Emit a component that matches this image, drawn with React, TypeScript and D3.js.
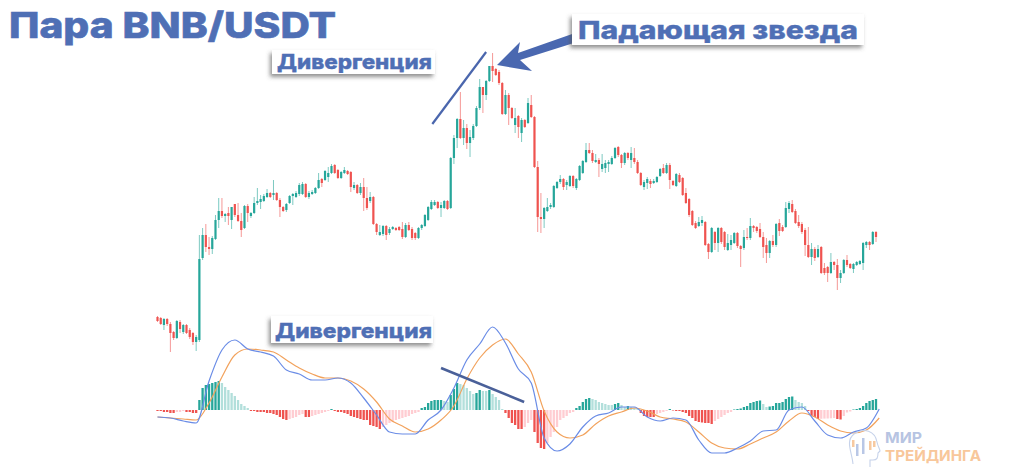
import React from "react";
import * as d3 from "d3";

const pairTitle = "Пара BNB/USDT";
const divergenceLabel = "Дивергенция";
const starLabel = "Падающая звезда";

const opens = [
  83,82,75,81,76,68,62,78,68,75, 70,67,58,60,142,165,153,151,161,180,
  189,184,187,180,196,185,179,172,194,184, 187,197,198,199,203,207,205,207,200,193,
  190,197,204,203,206,206,216,203,206,207, 212,221,220,223,227,235,230,222,227,229,
  228,212,215,207,213,202,199,203,176,165, 166,174,167,171,172,173,171,163,175,171,
  167,162,172,174,180,191,195,198,192,192, 199,192,242,262,281,262,272,257,262,274,
  292,313,305,319,334,331,328,317,286,305, 292,275,284,267,280,277,295,283,233,183,
  181,189,193,193,212,218,221,215,214,224, 212,220,227,238,250,247,238,240,231,232,
  236,236,242,253,245,237,247,240,242,238, 227,213,217,219,217,218,224,232,227,235,
  219,214,225,222,207,201,189,177,174,177, 178,156,148,168,157,172,168,150,155,157,
  167,154,152,163,162,174,173,171,163,155, 147,159,155,177,173,173,191,196,189,178,
  176,170,155,143,151,143,153,132,133,127, 138,135,122,127,140,136,131,135,136,137,
  155,158,156,168,
];
const closes = [
  79,76,81,76,67,62,79,71,75,67, 63,58,63,141,165,153,151,162,180,189,
  184,186,184,193,185,179,170,194,187,187, 197,199,201,204,207,203,207,200,193,189,
  196,204,206,207,215,216,203,207,208,212, 220,217,229,227,234,227,222,228,230,226,
  213,215,207,213,202,192,203,176,168,168, 174,165,171,173,170,170,163,175,170,162,
  162,172,175,185,193,198,198,192,195,199, 191,242,262,281,262,272,257,263,274,292,
  313,305,319,334,329,325,317,286,305,292, 282,282,273,280,273,297,283,233,183,181,
  192,193,195,214,218,221,213,218,224,214, 221,234,239,250,247,239,240,236,236,237,
  238,242,252,245,237,247,242,247,238,227, 215,218,221,216,219,223,231,227,235,220,
  215,226,218,205,197,185,175,172,178,180, 155,148,172,157,172,158,153,157,160,167,
  154,151,163,162,174,172,169,163,153,147, 159,155,176,169,169,192,197,188,177,174,
  168,155,143,151,142,151,127,127,127,138, 135,122,127,140,135,132,136,138,139,157,
  158,155,168,163,
];
const highs = [
  84,83,82,82,78,69,80,80,76,76, 72,68,65,165,172,176,163,164,185,202,
  202,187,193,193,196,197,187,195,196,188, 203,212,205,206,211,208,220,208,202,194,
  197,205,207,209,217,218,217,209,210,213, 227,222,230,233,236,236,231,229,233,230,
  229,218,216,217,222,213,208,204,177,175, 175,175,173,174,173,174,178,177,178,173,
  168,173,176,186,194,200,200,199,198,200, 200,243,265,282,308,280,276,270,276,294,
  321,313,320,334,347,332,330,318,310,307, 293,292,285,282,281,302,305,284,239,207,
  193,202,197,215,219,225,222,220,225,225, 222,235,240,257,257,250,246,242,246,240,
  240,244,253,254,246,248,248,253,252,240, 228,220,223,221,221,224,232,236,237,237,
  220,227,227,223,212,202,190,179,183,184, 179,157,173,169,173,173,169,166,165,168,
  168,155,170,172,182,175,174,177,168,162, 160,165,177,181,175,198,199,200,191,185,
  178,172,173,157,153,155,154,137,134,147, 139,141,130,141,145,137,137,139,140,158,
  159,159,169,169,
];
const lows = [
  78,75,70,74,48,60,61,67,66,66, 61,55,49,58,140,148,145,146,160,172,
  182,178,175,171,183,178,163,171,178,182, 186,195,191,198,202,202,200,199,183,188,
  188,196,195,202,204,205,202,201,205,206, 211,213,219,218,226,226,221,221,226,225,
  208,210,206,205,189,190,197,175,165,164, 164,160,165,170,169,169,161,162,169,160,
  160,161,170,173,179,190,194,191,183,191, 190,191,236,252,261,255,251,243,260,273,
  290,287,300,318,318,324,315,285,285,275, 281,267,262,258,272,276,282,232,168,167,
  172,188,191,192,211,216,210,210,213,212, 210,219,226,237,246,237,237,223,228,227,
  228,235,241,243,232,235,240,232,236,226, 214,210,211,212,216,217,223,226,226,211,
  214,213,217,204,196,183,174,171,173,174, 154,141,147,150,148,156,150,149,150,156,
  152,133,150,160,160,168,167,162,142,137, 142,153,153,164,168,172,187,187,176,172,
  166,144,142,135,139,142,126,125,118,126, 130,110,117,126,133,131,127,134,135,130,
  152,150,155,158,
];

const histogram = [
  -0.1,-0.1,-0.2,-0.2,-0.3,-0.3,-0.2,-0.2,-0.1,-0.2, -0.2,-0.3,-0.3,1,2.2,2.5,2.6,2.7,2.8,2.9,
  2.7,2.3,2,1.7,1.4,1,0.6,0.4,0.2,-0.1, -0.1,-0.2,-0.2,-0.2,-0.3,-0.3,-0.4,-0.5,-0.7,-0.9,
  -1,-0.9,-0.8,-0.7,-0.5,-0.4,-0.7,-0.7,-0.6,-0.5, -0.4,-0.3,-0.2,-0.1,0.1,-0.1,-0.2,-0.2,-0.3,-0.4,
  -0.6,-0.7,-0.8,-0.9,-1,-1,-1.5,-1.6,-1.7,-1.9, -1.7,-1.5,-1.3,-1.2,-1,-0.9,-0.8,-0.7,-0.6,-0.4,
  -0.3,-0.2,0.2,0.3,0.7,0.9,1,1,1,0.9, 0.8,1.5,2.1,2.7,2.6,2.5,2.2,1.9,1.6,1.7,
  2,1.9,1.9,2,1.6,1.3,1,0.1,-0.3,-0.8, -1.3,-1.5,-1.9,-1.9,-1.7,-1.3,-1,-2.2,-3.3,-3.8,
  -3.9,-3.3,-2.7,-2.2,-1.7,-1,-0.8,-0.6,-0.3,-0.2, 0.2,0.4,0.8,1.1,1.2,1.1,1,0.8,0.7,0.6,
  0.5,0.5,0.6,0.7,0.5,0.3,0.4,0.3,0.2,0.1, -0.3,-0.6,-0.7,-0.7,-0.7,-0.4,-0.3,-0.2,-0.1,0.1,
  -0.05,-0.1,-0.1,-0.2,-0.3,-0.6,-0.8,-1.1,-1.2,-1.25, -1.3,-1.3,-1.4,-1.1,-0.9,-0.7,-0.5,-0.3,-0.2,0.05,
  0.1,0.15,0.3,0.4,0.7,0.8,0.9,0.95,0.6,0.3, 0.35,0.4,0.7,0.7,0.8,1.1,1.3,1.35,1,0.8,
  0.7,0.4,-0.1,-0.6,-0.7,-0.9,-0.88,-0.86,-0.85,-0.83, -0.8,-0.9,-0.95,-0.6,-0.25,-0.15,0.05,0.1,0.2,0.4,
  0.7,0.9,1,1.1,
];

// MACD and signal, read every 4th bar
const macdLine = [
  -0.7,-0.8,-1.1,-1.3,2.9,6,7,6.1,5.8,5.4, 4,3.6,3,3,3.2,2.7,1.2,-0.5,-2.2,-2.4,
  -2.4,-1,0,2.2,5,6.6,8.3,6.7,4.1,2.7, -2.8,-4.1,-3.4,-1.7,-0.6,-0.3,0.3,0.3,-0.7,-1.1,
  -0.8,-1,-3,-4.3,-4.3,-3.8,-3.1,-2.1,-2,0, 0.3,-1.1,-2.5,-2.8,-2.2,-1.8,0.1,
];
const signalLine = [
  -0.7,-0.8,-0.9,-1,0.7,3.3,5.5,6.1,6,5.8, 5,4.2,3.6,3.2,3.2,2.9,2.1,0.8,-0.9,-1.6,
  -2.2,-1.9,-1,0.4,3.1,5.2,6.5,7.1,5.6,3.8, -0.1,-2.2,-2.8,-2.5,-1.4,-0.6,-0.2,0.2,-0.1,-0.7,
  -0.9,-1.2,-2.2,-3.3,-3.8,-3.9,-3.4,-2.8,-2.2,-1.1, -0.3,-0.7,-1.5,-2.1,-2.3,-2,-0.8,
];
const lineStep = 4;

// annotation anchors, as [bar index, price] on the charts
const priceTrend = [[85.3, 276], [102, 348]];
const macdTrend = [[88, 4.2], [113.8, 0.8]];

const BLUE = "#4f6fb5";
const GREEN = "#26a69a";
const RED = "#ef5350";
const GREEN_LIGHT = "#b2dfdb";
const RED_LIGHT = "#ffcdd2";

const x = d3.scaleLinear().domain([0, opens.length - 1]).range([157.5, 876]);
const yPrice = d3.scaleLinear().domain([48, 347]).range([352, 53]);
const yMacd = d3.scaleLinear().domain([-5, 10]).range([460, 310]);

function histColor(i: number): string {
  const v = histogram[i];
  let j = i - 1;
  while (j >= 0 && histogram[j] === v) j--;
  const prev = j >= 0 ? histogram[j] : 0;
  if (v >= 0) return v > prev ? GREEN : GREEN_LIGHT;
  return v < prev ? RED : RED_LIGHT;
}

function Label({ bx, by, bw, bh, text, size, tx, ty, tw }: any) {
  return (
    <g>
      <rect x={bx} y={by} width={bw} height={bh} fill="#fff" filter="url(#labelShadow)" />
      <text x={tx} y={ty} fontFamily="Inter, 'Open Sans', sans-serif" fontWeight={800} fontSize={size}
        fill={BLUE} stroke={BLUE} strokeWidth={0.35} textLength={tw} lengthAdjust="spacingAndGlyphs">{text}</text>
    </g>
  );
}

export default function App() {
  const line = d3.line<number>()
    .x((_, i) => x(i * lineStep))
    .y((d) => yMacd(d))
    .curve(d3.curveMonotoneX);

  return (
    <svg width={1024} height={473} viewBox="0 0 1024 473"
      style={{ position: "absolute", left: 0, top: 0, display: "block", background: "#fff" }}>
      <defs>
        <filter id="labelShadow" x="-10%" y="-30%" width="120%" height="170%">
          <feDropShadow dx={-2} dy={3} stdDeviation={2} floodColor="#555" floodOpacity={0.65} />
        </filter>
        <filter id="soft" x="-2%" y="-2%" width="104%" height="104%">
          <feGaussianBlur stdDeviation={0.5} />
        </filter>
      </defs>

      <text x={9} y={38} fontFamily="Inter, 'Open Sans', sans-serif" fontWeight={800} fontSize={36}
        fill={BLUE} stroke={BLUE} strokeWidth={0.6} textLength={327} lengthAdjust="spacingAndGlyphs">{pairTitle}</text>

      <g filter="url(#soft)">
        {opens.map((o, i) => {
          const c = closes[i];
          const up = c >= o;
          const col = up ? GREEN : RED;
          const top = yPrice(Math.max(o, c));
          const bot = yPrice(Math.min(o, c));
          return (
            <g key={i}>
              <line x1={x(i)} x2={x(i)} y1={yPrice(highs[i])} y2={yPrice(lows[i])}
                stroke={col} strokeOpacity={0.6} strokeWidth={1} />
              <rect x={x(i) - 1.1} width={2.2} y={top} height={Math.max(1, bot - top)} fill={col} />
            </g>
          );
        })}

        {histogram.map((v, i) => (
          <rect key={i} x={x(i) - 1.15} width={2.3}
            y={Math.min(yMacd(v), yMacd(0))} height={Math.abs(yMacd(v) - yMacd(0))}
            fill={histColor(i)} />
        ))}

        <path d={line(signalLine) ?? ""} fill="none" stroke="#f2a25c" strokeWidth={1.2} />
        <path d={line(macdLine) ?? ""} fill="none" stroke="#6a8ce6" strokeWidth={1.2} />
      </g>

      {/* annotations */}
      <line x1={x(priceTrend[0][0])} y1={yPrice(priceTrend[0][1])} x2={x(priceTrend[1][0])} y2={yPrice(priceTrend[1][1])}
        stroke="#4a66ad" strokeWidth={2.2} />
      <line x1={x(macdTrend[0][0])} y1={yMacd(macdTrend[0][1])} x2={x(macdTrend[1][0])} y2={yMacd(macdTrend[1][1])}
        stroke="#4a6099" strokeWidth={2.5} />

      <path d="M497,65 L520,42 L518,53 L575,33 L577,42 L520,60 L532,71 Z" fill="#4a68b0" />

      <Label bx={272} by={50} bw={163} bh={24} text={divergenceLabel} size={20} tx={277} ty={68.5} tw={155} />
      <Label bx={271} by={316} bw={162} bh={27} text={divergenceLabel} size={20} tx={275} ty={338} tw={157} />
      <Label bx={572} by={14} bw={292} bh={31} text={starLabel} size={25} tx={578} ty={39} tw={280} />

      {/* watermark */}
      <g fill="none" stroke="#c6d2ea" strokeWidth={1.1}>
        <path d="M853,464 C852,452 845,441 854,434 C864,427 875,431 877,442 C878,447 880,449 880,451 L878,453 C878,458 877,460 873,460 L870,460 L870,467" />
      </g>
      <g fill="#b9c7e6">
        <rect x={856} y={444} width={2.5} height={12} />
        <rect x={862} y={438} width={2.5} height={16} />
      </g>
      <g fill="#f7c9a0">
        <rect x={852} y={440} width={2.5} height={7} />
        <rect x={869} y={441} width={2.5} height={9} />
        <rect x={873} y={441} width={2.5} height={6} />
      </g>
      <text x={885} y={443} fontFamily="Inter, sans-serif" fontWeight={700} fontSize={14.5} fill="#b7c4e2"
        textLength={37} lengthAdjust="spacingAndGlyphs">МИР</text>
      <text x={885} y={461} fontFamily="Inter, sans-serif" fontWeight={700} fontSize={14.5} fill="#f8c79b"
        textLength={96} lengthAdjust="spacingAndGlyphs">ТРЕЙДИНГА</text>
    </svg>
  );
}
